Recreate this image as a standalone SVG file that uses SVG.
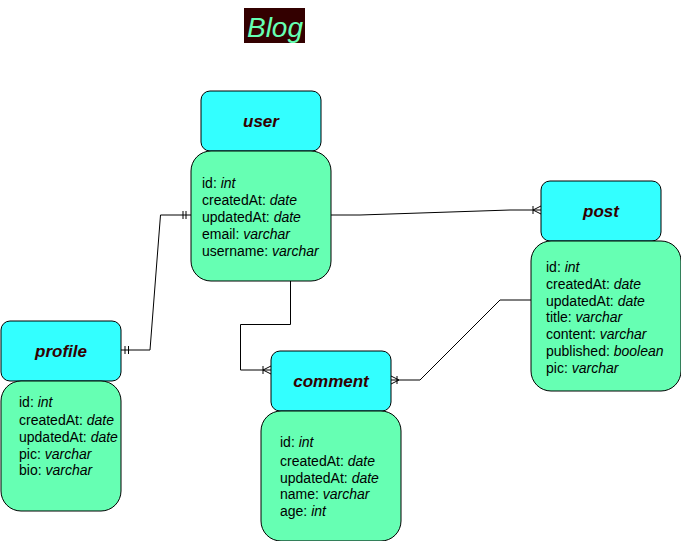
<svg xmlns="http://www.w3.org/2000/svg" width="681" height="541" viewBox="0 0 681 541">
<style>
.hdr{fill:#33FFFF;stroke:#000;stroke-width:1}
.body{fill:#66FFB3;stroke:#000;stroke-width:1}
.ht{font-family:"Liberation Sans",Arial,sans-serif;font-size:17px;font-weight:bold;font-style:italic;fill:#330000;text-anchor:middle}
.at{font-family:"Liberation Sans",Arial,sans-serif;font-size:14px;fill:#000}
.at tspan.i{font-style:italic}
.c{fill:none;stroke:#000;stroke-width:1}
</style>
<rect width="681" height="541" fill="#fff"/>
<g id="title">
<rect x="244" y="8" width="61" height="35" fill="#330000"/>
<text x="275" y="37" font-family="'Liberation Sans',Arial,sans-serif" font-size="28" font-style="italic" fill="#66FFB3" text-anchor="middle">Blog</text>
</g>
<g id="connectors">
<path class="c" d="M191,215 H160.5 L150,350 H121"/>
<path class="c" d="M183,211 V219 M186,211 V219"/>
<path class="c" d="M125,346 V354 M128.5,346 V354"/>
<path class="c" d="M331,215 H360 L510,210 H541"/>
<path class="c" d="M533,206 V214 M533,210 L541,206 M533,210 L541,214"/>
<path class="c" d="M290.5,281 V324.5 H240.5 V370 H271"/>
<path class="c" d="M263,366 V374 M263,370 L271,366 M263,370 L271,374"/>
<path class="c" d="M531,300 H500 L420,380 H391"/>
<path class="c" d="M397,376 V384 M399,380 L391,376 M399,380 L391,384"/>
</g>
<g id="user">
<rect class="hdr" x="201" y="91" width="120" height="60" rx="9"/>
<text class="ht" x="261" y="127">user</text>
<rect class="body" x="191" y="151" width="140" height="130" rx="20"/>
<text class="at" x="202" y="188">id: <tspan class="i">int</tspan></text>
<text class="at" x="202" y="205">createdAt: <tspan class="i">date</tspan></text>
<text class="at" x="202" y="222">updatedAt: <tspan class="i">date</tspan></text>
<text class="at" x="202" y="239">email: <tspan class="i">varchar</tspan></text>
<text class="at" x="202" y="256">username: <tspan class="i">varchar</tspan></text>
</g>
<g id="post">
<rect class="hdr" x="541" y="181" width="120" height="60" rx="9"/>
<text class="ht" x="601" y="217">post</text>
<rect class="body" x="531" y="241" width="150" height="150" rx="20"/>
<text class="at" x="546" y="272">id: <tspan class="i">int</tspan></text>
<text class="at" x="546" y="289">createdAt: <tspan class="i">date</tspan></text>
<text class="at" x="546" y="306">updatedAt: <tspan class="i">date</tspan></text>
<text class="at" x="546" y="322">title: <tspan class="i">varchar</tspan></text>
<text class="at" x="546" y="339">content: <tspan class="i">varchar</tspan></text>
<text class="at" x="546" y="356">published: <tspan class="i">boolean</tspan></text>
<text class="at" x="546" y="373">pic: <tspan class="i">varchar</tspan></text>
</g>
<g id="profile">
<rect class="hdr" x="1" y="321" width="120" height="60" rx="9"/>
<text class="ht" x="61" y="357">profile</text>
<rect class="body" x="1" y="381" width="120" height="130" rx="20"/>
<text class="at" x="19" y="407">id: <tspan class="i">int</tspan></text>
<text class="at" x="19" y="425">createdAt: <tspan class="i">date</tspan></text>
<text class="at" x="19" y="442">updatedAt: <tspan class="i">date</tspan></text>
<text class="at" x="19" y="459">pic: <tspan class="i">varchar</tspan></text>
<text class="at" x="19" y="475">bio: <tspan class="i">varchar</tspan></text>
</g>
<g id="comment">
<rect class="hdr" x="271" y="351" width="120" height="60" rx="9"/>
<text class="ht" x="331" y="387">comment</text>
<rect class="body" x="261" y="411" width="140" height="130" rx="20"/>
<text class="at" x="280" y="447">id: <tspan class="i">int</tspan></text>
<text class="at" x="280" y="466">createdAt: <tspan class="i">date</tspan></text>
<text class="at" x="280" y="483">updatedAt: <tspan class="i">date</tspan></text>
<text class="at" x="280" y="499">name: <tspan class="i">varchar</tspan></text>
<text class="at" x="280" y="516">age: <tspan class="i">int</tspan></text>
</g>
</svg>
